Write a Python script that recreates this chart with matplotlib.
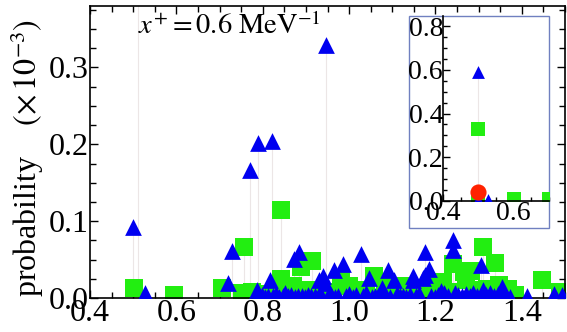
import matplotlib
matplotlib.use("Agg")
import matplotlib.pyplot as plt
from matplotlib.patches import Rectangle
from matplotlib.ticker import MultipleLocator

plt.rcParams['font.family'] = ['Liberation Serif', 'DejaVu Serif']
plt.rcParams['mathtext.fontset'] = 'stix'

# ---- main panel data (probability x 1e-3) ----
tri_x = [0.500, 0.528, 0.720, 0.729, 0.770, 0.786, 0.788, 0.817, 0.821, 0.852,
         0.872, 0.885, 0.930, 0.939, 0.944, 0.947, 0.964, 0.986, 1.027, 1.046,
         1.076, 1.090, 1.105, 1.148, 1.170, 1.176, 1.184, 1.241, 1.241, 1.306,
         1.355, 1.411, 1.474, 1.492, 1.149, 1.176]
tri_y = [0.092, 0.006, 0.020, 0.061, 0.167, 0.010, 0.202, 0.024, 0.204, 0.007,
         0.051, 0.060, 0.024, 0.028, 0.019, 0.329, 0.037, 0.044, 0.057, 0.026,
         0.013, 0.037, 0.024, 0.023, 0.026, 0.060, 0.038, 0.076, 0.063, 0.043,
         0.014, 0.003, 0.005, 0.004, 0.028, 0.030]

base_tri_x = [0.790, 0.798, 0.806, 0.812, 0.823, 0.830, 0.838, 0.846, 0.858, 0.865,
              0.875, 0.882, 0.890, 0.898, 0.905, 0.912, 0.920, 0.933, 0.950, 0.957,
              0.968, 0.975, 0.992, 1.000, 1.008, 1.015, 1.032, 1.040, 1.052, 1.060,
              1.068, 1.080, 1.095, 1.110, 1.118, 1.125, 1.132, 1.140, 1.155, 1.162,
              1.190, 1.198, 1.205, 1.212, 1.220, 1.228, 1.246, 1.253, 1.262, 1.270,
              1.280, 1.288, 1.296, 1.310, 1.318, 1.326, 1.335, 1.345, 1.362, 1.372]
base_tri_y = [0.002, 0.004, 0.001, 0.003, 0.002, 0.005, 0.001, 0.003, 0.002, 0.004,
              0.001, 0.003, 0.002, 0.001, 0.004, 0.002, 0.003, 0.006, 0.002, 0.004,
              0.001, 0.003, 0.002, 0.005, 0.001, 0.004, 0.002, 0.006, 0.001, 0.003,
              0.002, 0.004, 0.001, 0.005, 0.002, 0.003, 0.001, 0.004, 0.002, 0.005,
              0.003, 0.001, 0.004, 0.009, 0.006, 0.002, 0.007, 0.004, 0.002, 0.005,
              0.003, 0.006, 0.002, 0.010, 0.004, 0.007, 0.003, 0.005, 0.002, 0.001]

sq_x = [0.501, 0.595, 0.706, 0.752, 0.757, 0.843, 0.842, 0.849, 0.870, 0.889,
        0.914, 0.981, 1.000, 1.057, 1.084, 1.131, 1.200, 1.218, 1.241, 1.265,
        1.282, 1.311, 1.338, 1.271, 1.346, 1.368, 1.446, 1.488]
sq_y = [0.013, 0.004, 0.013, 0.006, 0.067, 0.114, 0.025, 0.008, 0.015, 0.040,
        0.048, 0.023, 0.015, 0.028, 0.021, 0.015, 0.015, 0.021, 0.044, 0.034,
        0.035, 0.066, 0.045, 0.023, 0.017, 0.012, 0.023, 0.008]

base_sq_x = [0.775, 0.815, 0.900, 0.930, 0.960, 1.010, 1.040, 1.100, 1.150, 1.175,
             1.230, 1.290, 1.320, 1.385, 1.116]
base_sq_y = [0.008, 0.005, 0.010, 0.006, 0.008, 0.006, 0.010, 0.010, 0.012, 0.008,
             0.008, 0.010, 0.012, 0.004, 0.008]

# ---- inset data ----
in_tri_x = [0.500, 0.500, 0.528]
in_tri_y = [0.590, 0.004, 0.004]
in_sq_x = [0.500, 0.500, 0.600, 0.700]
in_sq_y = [0.330, 0.008, 0.008, 0.008]
in_circ_x = [0.500]
in_circ_y = [0.040]

BLUE = '#0000f0'
GREEN = '#22ee11'
RED = '#ff2200'
STEM = '#ece6e6'

W, H = 567, 332
fig = plt.figure(figsize=(W / 100, H / 100), dpi=100)
ax = fig.add_axes([90 / W, 34 / H, 475 / W, 292 / H])

all_x = tri_x + sq_x
all_y = tri_y + sq_y
ax.vlines(all_x, 0, all_y, color=STEM, lw=0.8, zorder=1)
ax.axvline(0.512, color=STEM, lw=0.8, zorder=1)

ax.scatter(sq_x + base_sq_x, sq_y + base_sq_y, marker='s', s=165, color=GREEN,
           linewidths=0, zorder=2)
ax.scatter(tri_x + base_tri_x, tri_y + base_tri_y, marker='^', s=145, color=BLUE,
           linewidths=0, zorder=3)

ax.set_xlim(0.4, 1.5)
ax.set_ylim(0, 0.38)
ax.xaxis.set_minor_locator(MultipleLocator(0.05))
ax.yaxis.set_minor_locator(MultipleLocator(0.025))
ax.set_xticks([0.4, 0.6, 0.8, 1.0, 1.2, 1.4])
ax.set_xticklabels(['0.4', '0.6', '0.8', '1.0', '1.2', '1.4'])
ax.set_yticks([0.0, 0.1, 0.2, 0.3])
ax.set_yticklabels(['0.0', '0.1', '0.2', '0.3'])
ax.tick_params(which='both', direction='in', top=True, right=True,
               labelsize=23, width=1.0)
ax.tick_params(axis='x', pad=1)
ax.tick_params(axis='y', pad=1)
ax.tick_params(which='major', length=6)
ax.tick_params(which='minor', length=4)
for sp in ax.spines.values():
    sp.set_linewidth(1.2)

ax.set_ylabel(r'probability $\quad\left(\times\, 10^{-3}\right)$', fontsize=23)
ax.yaxis.set_label_coords(-0.092, 0.478)
ax.text(0.510, 0.344, r'$x^{+} = 0.6\ \mathrm{MeV}^{-1}$', fontsize=20.5,
        ha='left', va='baseline')

# ---- inset ----
fig.add_artist(Rectangle((409 / W, 1 - 228 / H), 140 / W, 212 / H,
                         transform=fig.transFigure, facecolor='white',
                         edgecolor='#7080c0', lw=1.0, zorder=5))
axi = fig.add_axes([443 / W, 1 - 201 / H, 106 / W, 185 / H], zorder=6)
axi.patch.set_alpha(0)
axi.vlines(in_tri_x[:1], 0, in_tri_y[:1], color=STEM, lw=0.8, zorder=1)
axi.scatter(in_sq_x, in_sq_y, marker='s', s=100, color=GREEN, linewidths=0, zorder=2)
axi.scatter(in_tri_x, in_tri_y, marker='^', s=85, color=BLUE, linewidths=0, zorder=3)
axi.scatter(in_circ_x, in_circ_y, marker='o', s=135, color=RED, linewidths=0, zorder=4)
axi.set_xlim(0.4, 0.7)
axi.set_ylim(0, 0.846)
axi.set_xticks([0.4, 0.6])
axi.set_xticklabels(['0.4', '0.6'])
axi.xaxis.set_minor_locator(MultipleLocator(0.05))
axi.set_yticks([0.0, 0.2, 0.4, 0.6, 0.8])
axi.set_yticklabels(['0.0', '0.2', '0.4', '0.6', '0.8'])
axi.yaxis.set_minor_locator(MultipleLocator(0.05))
axi.spines['top'].set_visible(False)
axi.spines['right'].set_visible(False)
for s in ('left', 'bottom'):
    axi.spines[s].set_linewidth(1.2)
axi.tick_params(which='both', direction='in', labelsize=20, width=1.0, pad=0)
axi.tick_params(which='major', length=5)
axi.tick_params(which='minor', length=3)

fig.savefig('out.png', dpi=100)
